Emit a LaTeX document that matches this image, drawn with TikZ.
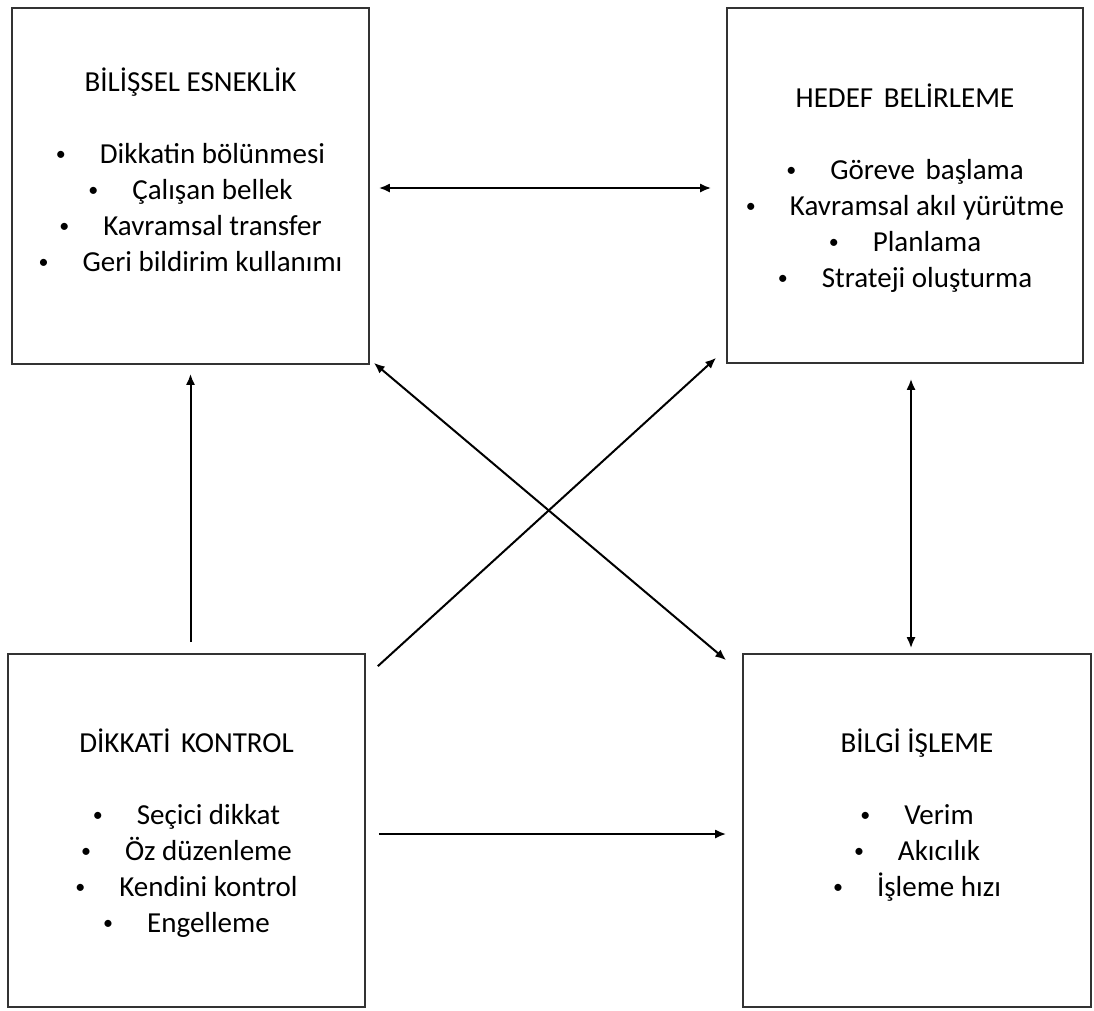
\documentclass[tikz,border=0pt]{standalone}
\usepackage{fontspec}
\setmainfont{Carlito}
\usetikzlibrary{arrows.meta,positioning}

\newcommand{\itm}[1]{\raisebox{2.5pt}{\fontsize{20}{36}\selectfont\textbullet}\hspace{34pt}#1}

\tikzset{
  box/.style={draw=black!80, line width=1.6pt, inner sep=0pt},
  txt/.style={align=center, inner sep=0pt, font=\fontsize{29}{36}\selectfont},
  con/.style={line width=2pt, -{Latex[length=11pt,width=9pt]}},
  dcon/.style={line width=2pt, {Latex[length=11pt,width=9pt]}-{Latex[length=11pt,width=9pt]}}
}

\begin{document}
\begin{tikzpicture}[x=1pt, y=-1pt]

\fill[white] (0,0) rectangle (1094,1010);
\useasboundingbox (0,0) rectangle (1094,1010);

% the four boxes
\node[box, minimum width=357pt, minimum height=356pt] (bes) at (190.5,186) {};
\node[box, minimum width=356pt, minimum height=355pt] (hb) at (905,185.5) {};
\node[box, minimum width=357pt, minimum height=353pt] (dk) at (186.5,830.5) {};
\node[box, minimum width=348pt, minimum height=353pt] (bi) at (917,830.5) {};

% texts
\node[txt, below=60pt of bes.north] (bes-txt) {BİLİŞSEL ESNEKLİK\\[36pt]
  \itm{Dikkatin bölünmesi}\\ \itm{Çalışan bellek}\\
  \itm{Kavramsal transfer}\\ \itm{Geri bildirim kullanımı}};
\node[txt, below=76pt of hb.north] (hb-txt) {HEDEF\hspace{4pt} BELİRLEME\\[36pt]
  \itm{Göreve\hspace{4pt} başlama}\\ \itm{Kavramsal akıl yürütme}\\
  \itm{Planlama}\\ \itm{Strateji oluşturma}};
\node[txt, below=75pt of dk.north] (dk-txt) {DİKKATİ\hspace{4pt} KONTROL\\[36pt]
  \itm{Seçici dikkat}\\ \itm{Öz düzenleme}\\
  \itm{Kendini kontrol}\\ \itm{Engelleme}};
\node[txt, below=75pt of bi.north] (bi-txt) {BİLGİ İŞLEME\\[36pt]
  \itm{Verim}\\ \itm{Akıcılık}\\ \itm{İşleme hızı}};

% connectors
\draw[dcon] ([shift={(9,2)}]bes.east) -- ([shift={(-15,2.5)}]hb.west);
\draw[con] ([shift={(4,-11)}]dk.north) -- ([shift={(0,9)}]bes.south);
\draw[dcon] ([shift={(6,15)}]hb.south) -- ([shift={(-6,-5)}]bi.north);
\draw[con] ([shift={(13,3.5)}]dk.east) -- ([shift={(-16,3.5)}]bi.west);
\draw[dcon] ([shift={(4,-2)}]bes.south east) -- ([shift={(-16,7)}]bi.north west);
\draw[con] ([shift={(12,13)}]dk.north east) -- ([shift={(-10,-6)}]hb.south west);

\end{tikzpicture}
\end{document}
